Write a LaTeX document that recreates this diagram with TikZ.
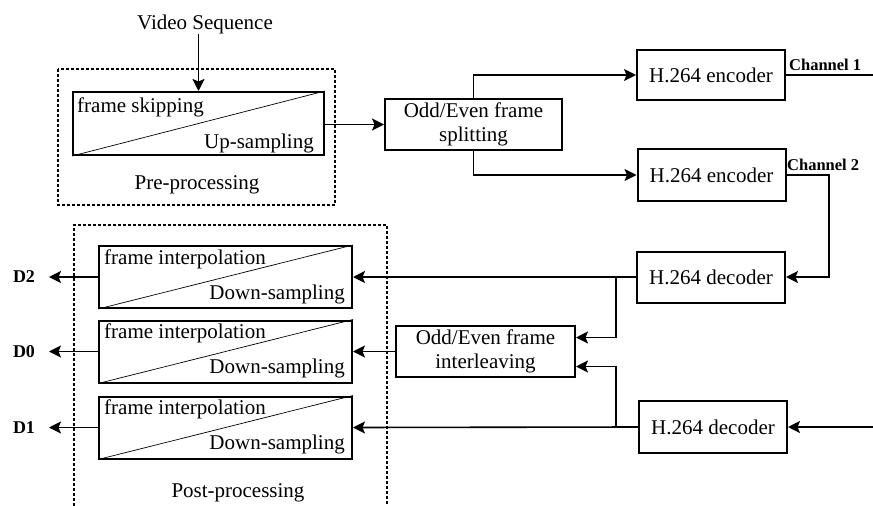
\documentclass[tikz,border=0pt]{standalone}
\usepackage{fontspec}
\setmainfont{Liberation Serif}
\usetikzlibrary{arrows.meta}
\begin{document}
\begin{tikzpicture}[x=1pt,y=-1pt,
  txt/.style={font=\fontsize{21}{24}\selectfont, inner sep=0pt},
  lbl/.style={font=\fontsize{18}{20}\selectfont\bfseries, inner sep=0pt},
  chn/.style={font=\fontsize{16.5}{18}\selectfont\bfseries, inner sep=0pt},
  blk/.style={draw, line width=2pt, inner sep=0pt, align=center,
    font=\fontsize{21}{24}\selectfont, minimum width=148pt, minimum height=50pt},
  splitbox/.style={draw, line width=2pt, inner sep=0pt,
    minimum width=#1, minimum height=62pt},
  diag/.style={line width=0.7pt},
  conn/.style={line width=1.6pt, -{Stealth[length=12pt,width=12pt,inset=2.5pt]}},
  wire/.style={line width=1.6pt},
  group/.style={line width=1.5pt, dash pattern=on 3pt off 2pt}]
\useasboundingbox (0,0) rectangle (873,506);

% ---------- pre-processing ----------
\draw[group] (58,69) rectangle (335,205);
\node[txt, anchor=base] (vs) at (205,29) {Video Sequence};
\node[splitbox=251pt, minimum height=63pt] (pre) at (198.5,123.5) {};
\draw[diag] (pre.south west) -- (pre.north east);
\node[txt, anchor=base west] (fs) at ([xshift=5pt,yshift=-21pt]pre.north west) {frame skipping};
\node[txt, anchor=base east] (us) at ([xshift=-11pt,yshift=8pt]pre.south east) {Up-sampling};
\node[txt] (prel) at (197,185) {Pre-processing};

% ---------- splitting and encoders ----------
\node[blk, minimum width=177pt, minimum height=51pt] (split) at (473.5,124.5) {Odd/Even frame\\splitting};
\node[blk] (enc1) at (711,75) {H.264 encoder};
\node[blk, minimum height=52pt] (enc2) at (711.5,175) {H.264 encoder};
\node[blk, minimum height=51pt] (dec1) at (711,277) {H.264 decoder};
\node[blk, minimum height=52pt] (dec2) at (713,427) {H.264 decoder};
\node[blk, minimum width=179pt, minimum height=51pt] (inter) at (485.5,351.5) {Odd/Even frame\\interleaving};

\node[chn, anchor=base west] (ch1) at (789,70) {Channel 1};
\node[chn, anchor=base west] (ch2) at (787,170) {Channel 2};

\coordinate (ch1end) at (873,75);
\coordinate (ch2turn) at (829,175);
\coordinate (in2) at (873,427);

% ---------- post-processing ----------
\draw[group] (74,506) -- (74,225) -- (387,225) -- (387,506);
\foreach \n/\y in {p2/277, p0/351.5, p1/427.5}{
  \node[splitbox=253pt] (\n) at (225.5,\y) {};
  \draw[diag] (\n.south west) -- (\n.north east);
  \node[txt, anchor=base west] at ([xshift=6pt,yshift=-19pt]\n.north west) {frame interpolation};
  \node[txt, anchor=base east] at ([xshift=-8pt,yshift=10pt]\n.south east) {Down-sampling};
}
\node[txt] (postl) at (238,493) {Post-processing};

\node[lbl] (D2) at (24,277) {D2};
\node[lbl] (D0) at (24,351.5) {D0};
\node[lbl] (D1) at (24,427.5) {D1};
\coordinate (o2) at (49,277);
\coordinate (o0) at (49,351.5);
\coordinate (o1) at (49,427.5);

% ---------- connectors ----------
\draw[conn] (vs.south -| pre.north) -- (pre.north);
\draw[conn] (pre.east |- split.west) -- (split.west);
\draw[conn] (split.north) |- (enc1.west);
\draw[conn] (split.south) |- (enc2.west);
\draw[wire] (enc1.east) -- (ch1end);
\draw[conn] (enc2.east) -- (ch2turn) |- (dec1.east);
\draw[conn] (in2) -- (dec2.east);

\draw[conn] (dec1.west) -- (p2.east);
\draw[conn] (dec2.west) -- (p1.east);
\coordinate (b1) at (616,277);
\coordinate (b2) at (616,427);
\draw[conn] (b1) |- ([yshift=14pt]inter.east);
\draw[conn] (b2) |- ([yshift=-15pt]inter.east);
\draw[conn] (inter.west) -- (p0.east);

\draw[conn] (p2.west) -- (o2);
\draw[conn] (p0.west) -- (o0);
\draw[conn] (p1.west) -- (o1);
\end{tikzpicture}
\end{document}
